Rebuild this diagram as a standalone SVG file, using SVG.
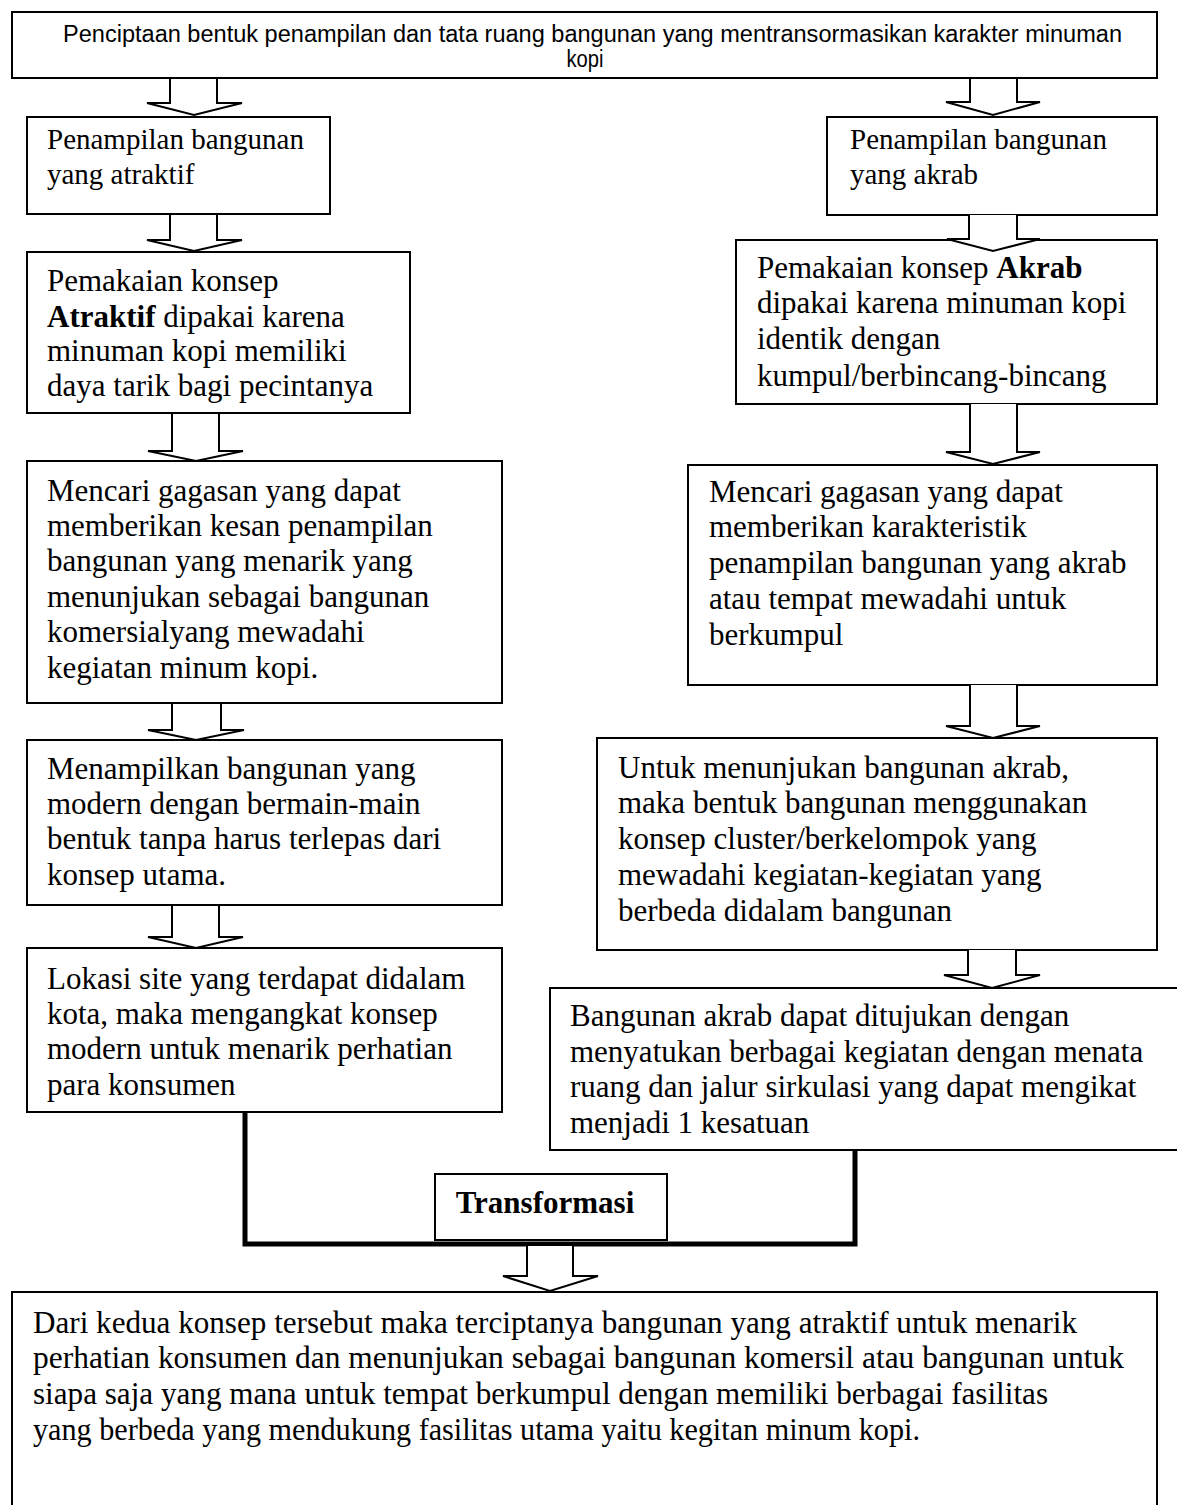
<svg xmlns="http://www.w3.org/2000/svg" width="1177" height="1505" viewBox="0 0 1177 1505">
  <style>
    .box { fill: #fff; stroke: #000; stroke-width: 2; }
    .arrow { fill: #fff; stroke: #000; stroke-width: 2; stroke-linejoin: miter; }
    .t { font-family: "Liberation Serif", "Times New Roman", serif; font-size: 31px; fill: #000; }
    .s { font-size: 29px; }
    .h { font-family: "Liberation Sans", Arial, sans-serif; font-size: 23px; fill: #000; }
    .b { font-weight: bold; }
    .thick { fill: none; stroke: #000; stroke-width: 5; }
  </style>
  <rect width="1177" height="1505" fill="#fff"/>

  <!-- block arrows and thick joining lines -->
  <g id="connectors">
    <polyline class="arrow" points="170,78 170,103 147,103 194,115 242,103 217,103 217,78"/>
    <polyline class="arrow" points="970,78 970,102 946,102 993,115 1040,102 1017,102 1017,78"/>
    <polyline class="arrow" points="170,214 170,240 147,240 194,251 242,240 217,240 217,214"/>
    <polyline class="arrow" points="172,413 172,451 148,451 196,461 243,451 219,451 219,413"/>
    <polygon class="arrow" points="172,695 172,730 148,730 196,740 244,730 221,730 221,695"/>
    <polyline class="arrow" points="172,905 172,937 148,937 196,948 243,937 219,937 219,905"/>
    <path class="thick" d="M245 1112 V1244 H855 V1150"/>
    <polyline class="arrow" points="527,1246 527,1276 503,1276 550,1291 598,1276 573,1276 573,1246"/>
  </g>

  <g id="n-top">
    <rect class="box" x="12" y="12" width="1145" height="66"/>
    <text class="h" x="63" y="42" textLength="1059" lengthAdjust="spacingAndGlyphs">Penciptaan bentuk penampilan dan tata ruang bangunan yang mentransormasikan karakter minuman</text>
    <text class="h" x="585" y="67" text-anchor="middle" textLength="37" lengthAdjust="spacingAndGlyphs">kopi</text>
  </g>

  <g id="n-l1">
    <rect class="box" x="27" y="117" width="303" height="97"/>
    <text class="t s" x="47" y="149">Penampilan bangunan</text>
    <text class="t s" x="47" y="184">yang atraktif</text>
  </g>

  <g id="n-l2">
    <rect class="box" x="27" y="252" width="383" height="161"/>
    <text class="t" x="47" y="291">Pemakaian konsep</text>
    <text class="t" x="47" y="327"><tspan class="b">Atraktif</tspan> dipakai karena</text>
    <text class="t" x="47" y="361">minuman kopi memiliki</text>
    <text class="t" x="47" y="396">daya tarik bagi pecintanya</text>
  </g>

  <g id="n-l3">
    <rect class="box" x="27" y="461" width="475" height="242"/>
    <text class="t" x="47" y="501">Mencari gagasan yang dapat</text>
    <text class="t" x="47" y="536">memberikan kesan penampilan</text>
    <text class="t" x="47" y="571">bangunan yang menarik yang</text>
    <text class="t" x="47" y="607">menunjukan sebagai bangunan</text>
    <text class="t" x="47" y="642">komersialyang mewadahi</text>
    <text class="t" x="47" y="678">kegiatan minum kopi.</text>
  </g>

  <g id="n-l4">
    <rect class="box" x="27" y="740" width="475" height="165"/>
    <text class="t" x="47" y="779">Menampilkan bangunan yang</text>
    <text class="t" x="47" y="814">modern dengan bermain-main</text>
    <text class="t" x="47" y="849">bentuk tanpa harus terlepas dari</text>
    <text class="t" x="47" y="885">konsep utama.</text>
  </g>

  <g id="n-l5">
    <rect class="box" x="27" y="948" width="475" height="164"/>
    <text class="t" x="47" y="989">Lokasi site yang terdapat didalam</text>
    <text class="t" x="47" y="1024">kota, maka mengangkat konsep</text>
    <text class="t" x="47" y="1059">modern untuk menarik perhatian</text>
    <text class="t" x="47" y="1095">para konsumen</text>
  </g>

  <g id="n-r1">
    <rect class="box" x="827" y="117" width="330" height="98"/>
    <text class="t s" x="850" y="149">Penampilan bangunan</text>
    <text class="t s" x="850" y="184">yang akrab</text>
  </g>

  <g id="n-r2">
    <rect class="box" x="736" y="240" width="421" height="164"/>
    <text class="t" x="757" y="278">Pemakaian konsep <tspan class="b">Akrab</tspan></text>
    <text class="t" x="757" y="313">dipakai karena minuman kopi</text>
    <text class="t" x="757" y="349">identik dengan</text>
    <text class="t" x="757" y="386">kumpul/berbincang-bincang</text>
  </g>
  <!-- arrow whose head overlaps the box below it -->
  <polyline class="arrow" points="969,215 969,239 947,239 993,251 1040,239 1017,239 1017,215"/>

  <polyline class="arrow" points="970,404 970,452 946,452 993,464 1040,452 1017,452 1017,404"/>
  <g id="n-r3">
    <rect class="box" x="688" y="465" width="469" height="220"/>
    <text class="t" x="709" y="502">Mencari gagasan yang dapat</text>
    <text class="t" x="709" y="537">memberikan karakteristik</text>
    <text class="t" x="709" y="573">penampilan bangunan yang akrab</text>
    <text class="t" x="709" y="609">atau tempat mewadahi untuk</text>
    <text class="t" x="709" y="645">berkumpul</text>
  </g>

  <polyline class="arrow" points="970,685 970,726 946,726 993,738 1040,726 1017,726 1017,685"/>
  <g id="n-r4">
    <rect class="box" x="597" y="738" width="560" height="212"/>
    <text class="t" x="618" y="778">Untuk menunjukan bangunan akrab,</text>
    <text class="t" x="618" y="813">maka bentuk bangunan menggunakan</text>
    <text class="t" x="618" y="849">konsep cluster/berkelompok yang</text>
    <text class="t" x="618" y="885">mewadahi kegiatan-kegiatan yang</text>
    <text class="t" x="618" y="921">berbeda didalam bangunan</text>
  </g>

  <polyline class="arrow" points="968,950 968,975 944,975 992,988 1040,975 1016,975 1016,950"/>
  <g id="n-r5">
    <rect class="box" x="550" y="988" width="640" height="162"/>
    <text class="t" x="570" y="1026">Bangunan akrab dapat ditujukan dengan</text>
    <text class="t" x="570" y="1062">menyatukan berbagai kegiatan dengan menata</text>
    <text class="t" x="570" y="1097">ruang dan jalur sirkulasi yang dapat mengikat</text>
    <text class="t" x="570" y="1133">menjadi 1 kesatuan</text>
  </g>

  <g id="n-transformasi">
    <rect class="box" x="435" y="1174" width="232" height="66"/>
    <text class="t b" x="545" y="1213" text-anchor="middle" font-size="27">Transformasi</text>
  </g>

  <g id="n-bottom">
    <rect class="box" x="12" y="1292" width="1145" height="225"/>
    <text class="t" x="33" y="1333" font-size="32" textLength="1044" lengthAdjust="spacingAndGlyphs">Dari kedua konsep tersebut maka terciptanya bangunan yang atraktif untuk menarik</text>
    <text class="t" x="33" y="1368" font-size="32" textLength="1091" lengthAdjust="spacingAndGlyphs">perhatian konsumen dan menunjukan sebagai bangunan komersil atau bangunan untuk</text>
    <text class="t" x="33" y="1404" font-size="32" textLength="1015" lengthAdjust="spacingAndGlyphs">siapa saja yang mana untuk tempat berkumpul dengan memiliki berbagai fasilitas</text>
    <text class="t" x="33" y="1440" font-size="32" textLength="887" lengthAdjust="spacingAndGlyphs">yang berbeda yang mendukung fasilitas utama yaitu kegitan minum kopi.</text>
  </g>
</svg>
